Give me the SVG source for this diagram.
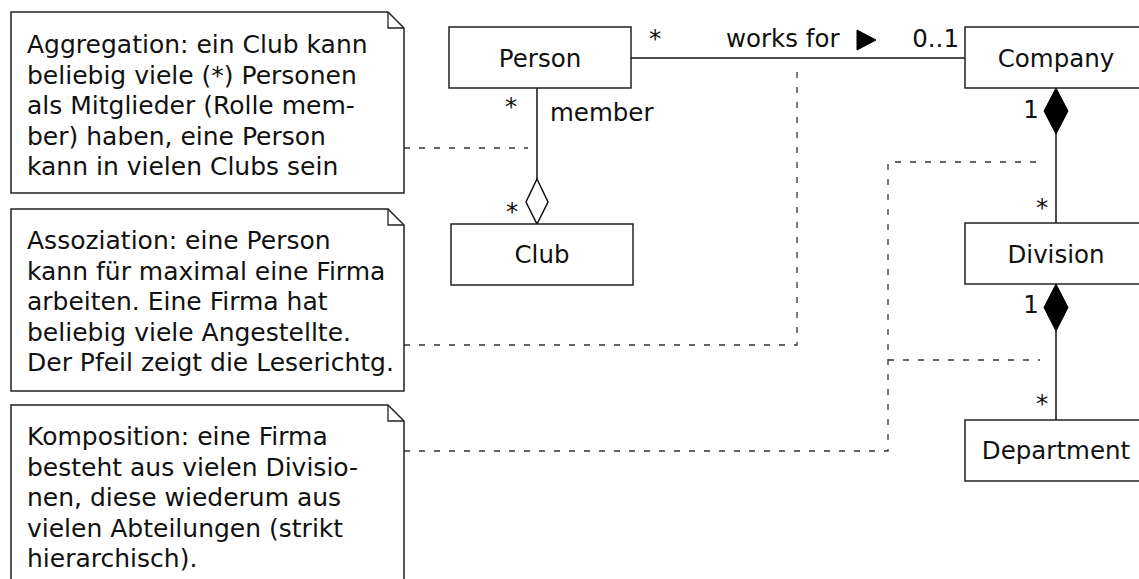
<svg xmlns="http://www.w3.org/2000/svg" width="1139" height="579" viewBox="0 0 1139 579">
  <style>
    text { font-family: "DejaVu Sans", "Liberation Sans", sans-serif; font-size: 24.5px; fill: #111; }
    .n { font-size: 25px; }
    .c { text-anchor: middle; }
    .box { fill: #fff; stroke: #222; stroke-width: 1.5; }
    .note { fill: #fff; stroke: #222; stroke-width: 1.5; stroke-linejoin: miter; }
    .fold { fill: none; stroke: #222; stroke-width: 1.3; }
    .assoc { fill: none; stroke: #111; stroke-width: 1.5; }
    .dash { fill: none; stroke: #333; stroke-width: 1.3; stroke-dasharray: 6 9; }
    .hollow { fill: #fff; stroke: #111; stroke-width: 1.5; }
    .solid { fill: #000; stroke: #000; stroke-width: 1; }
  </style>

  <!-- connectors -->
  <g id="connectors">
    <!-- note anchors -->
    <path class="dash" d="M404 148 H528"/>
    <path class="dash" d="M404 345 H797 V70"/>
    <path class="dash" d="M404 451 H888 V162 H1040"/>
    <path class="dash" d="M888 360 H1040"/>

    <!-- Person works for Company -->
    <path class="assoc" d="M631 58 H965"/>
    <text x="655" y="47" class="c">*</text>
    <text x="726" y="47">works for</text>
    <polygon class="solid" points="857,30 876,40 857,50"/>
    <text x="959" y="47" text-anchor="end">0..1</text>

    <!-- Club aggregates Person (member) -->
    <path class="assoc" d="M537 88 V179"/>
    <polygon class="hollow" points="537,179 548,202 537,224 526,202"/>
    <text x="511" y="115" class="c">*</text>
    <text x="550" y="121">member</text>
    <text x="512" y="220" class="c">*</text>

    <!-- Company composed of Division -->
    <path class="assoc" d="M1056 134 V223"/>
    <polygon class="solid" points="1056,88 1068,111 1056,134 1044,111"/>
    <text x="1031" y="118" class="c">1</text>
    <text x="1042" y="216" class="c">*</text>

    <!-- Division composed of Department -->
    <path class="assoc" d="M1056 331 V420"/>
    <polygon class="solid" points="1056,284 1068,307.5 1056,331 1044,307.5"/>
    <text x="1031" y="313" class="c">1</text>
    <text x="1042" y="412" class="c">*</text>
  </g>

  <!-- classes -->
  <g id="person">
    <rect class="box" x="449" y="27" width="182" height="61"/>
    <text x="540" y="66.5" class="c">Person</text>
  </g>
  <g id="company">
    <rect class="box" x="965" y="27" width="182" height="61"/>
    <text x="1056" y="66.5" class="c">Company</text>
  </g>
  <g id="club">
    <rect class="box" x="451" y="224" width="182" height="61"/>
    <text x="542" y="263" class="c">Club</text>
  </g>
  <g id="division">
    <rect class="box" x="965" y="223" width="182" height="61"/>
    <text x="1056" y="263" class="c">Division</text>
  </g>
  <g id="department">
    <rect class="box" x="965" y="420" width="182" height="61"/>
    <text x="1056" y="459" class="c">Department</text>
  </g>

  <!-- notes -->
  <g id="note-aggregation">
    <path class="note" d="M11 12 H388 L404 28 V193 H11 Z"/>
    <path class="fold" d="M388 12 V28 H404"/>
    <text class="n" x="27" y="53">Aggregation: ein Club kann</text>
    <text class="n" x="27" y="83.5">beliebig viele (*) Personen</text>
    <text class="n" x="27" y="114">als Mitglieder (Rolle mem-</text>
    <text class="n" x="27" y="144.5">ber) haben, eine Person</text>
    <text class="n" x="27" y="175">kann in vielen Clubs sein</text>
  </g>
  <g id="note-association">
    <path class="note" d="M11 209 H388 L404 225 V391 H11 Z"/>
    <path class="fold" d="M388 209 V225 H404"/>
    <text class="n" x="27" y="249">Assoziation: eine Person</text>
    <text class="n" x="27" y="279.5">kann für maximal eine Firma</text>
    <text class="n" x="27" y="310">arbeiten. Eine Firma hat</text>
    <text class="n" x="27" y="340.5">beliebig viele Angestellte.</text>
    <text class="n" x="27" y="371">Der Pfeil zeigt die Leserichtg.</text>
  </g>
  <g id="note-composition">
    <path class="note" d="M11 581 V405 H388 L404 421 V581"/>
    <path class="fold" d="M388 405 V421 H404"/>
    <text class="n" x="27" y="445">Komposition: eine Firma</text>
    <text class="n" x="27" y="475.5">besteht aus vielen Divisio-</text>
    <text class="n" x="27" y="506">nen, diese wiederum aus</text>
    <text class="n" x="27" y="536.5">vielen Abteilungen (strikt</text>
    <text class="n" x="27" y="567">hierarchisch).</text>
  </g>
</svg>
